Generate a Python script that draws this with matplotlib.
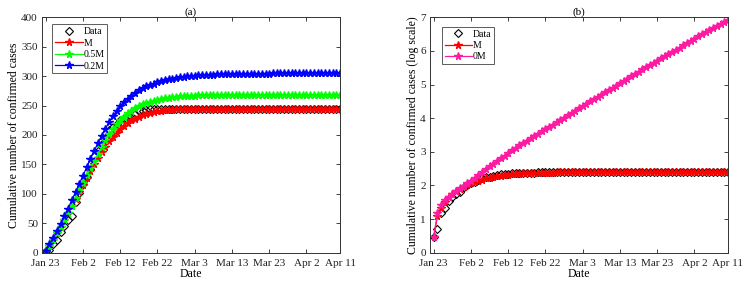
import numpy as np
import matplotlib
matplotlib.use("Agg")
import matplotlib.pyplot as plt

plt.rcParams['font.family'] = ['Liberation Serif', 'DejaVu Serif']
plt.rcParams['mathtext.fontset'] = 'stix'

days = list(range(80))
tick_days = [0, 10, 20, 30, 40, 50, 60, 70, 79]
tick_labels = ['Jan 23', 'Feb 2', 'Feb 12', 'Feb 22', 'Mar 3', 'Mar 13', 'Mar 23', 'Apr 2', 'Apr 11']

data_cases = [3, 5, 15, 22, 35, 46, 56, 63, 87, 101,
              116, 128, 142, 165, 173, 184, 195, 208, 213, 219,
              225, 229, 230, 232, 236, 240, 240, 242, 245, 245,
              245, 245, 245, 245, 245, 245, 245, 245, 245, 245,
              245, 245, 245, 245, 245, 245, 245, 245, 245, 245,
              245, 245, 245, 245, 245, 245, 245, 245, 245, 245,
              245, 245, 245, 245, 245, 245, 245, 245, 245, 245,
              245, 245, 245, 245, 245, 245, 245, 245, 245, 245]

model_M = [3, 12, 22, 33, 44, 55, 67, 79, 91, 103,
           115, 127, 139, 150, 161, 171, 180, 189, 197, 204,
           210, 216, 221, 225, 228, 231, 234, 236, 238, 239,
           240, 241, 242, 242.6, 243.1, 243.5, 243.8, 244.0, 244.2, 244.4,
           244.5, 244.6, 244.7, 244.8, 244.8, 244.9, 244.9, 245, 245, 245,
           245, 245, 245, 245, 245, 245, 245, 245, 245, 245,
           245, 245, 245, 245, 245, 245, 245, 245, 245, 245,
           245, 245, 245, 245, 245, 245, 245, 245, 245, 245]

model_05M = [3, 12, 22, 33, 44, 56, 68, 80, 93, 106,
             119, 132, 144, 156, 168, 180, 191, 201, 210, 218,
             225, 231, 237, 241.5, 245.5, 249, 252, 254.5, 256.5, 258.2,
             259.6, 261, 262.3, 263.4, 264.3, 265, 265.6, 266.1, 266.5, 266.8,
             267.1, 267.3, 267.5, 267.6, 267.7, 267.8, 267.9, 268, 268, 268,
             268, 268, 268, 268, 268, 268, 268, 268, 268, 268,
             268, 268, 268, 268, 268, 268, 268, 268, 268, 268,
             268, 268, 268, 268, 268, 268, 268, 268, 268, 268]

model_02M = [3, 14, 25, 37, 49, 62, 75, 89, 103, 117,
             131, 145, 159, 173, 186, 199, 211, 222, 232, 241,
             249, 256, 262, 267, 272, 276, 279.5, 282.5, 285, 287.5,
             289.5, 291.5, 293, 294.5, 295.8, 297, 298, 298.8, 299.6, 300.3,
             300.9, 301.4, 301.8, 302.2, 302.5, 302.8, 303, 303.2, 303.4, 303.5,
             303.6, 303.7, 303.8, 303.9, 304, 304.1, 304.2, 304.3, 304.4, 304.5,
             304.5, 304.6, 304.6, 304.7, 304.7, 304.8, 304.8, 304.8, 304.9, 304.9,
             304.9, 305, 305, 305, 305, 305, 305, 305, 305, 305]

log_model_0M = [0.48, 1.17, 1.42, 1.56, 1.67, 1.76, 1.84, 1.92, 1.99, 2.06,
                2.13, 2.21, 2.30, 2.39, 2.48, 2.57, 2.65, 2.73, 2.81, 2.89,
                2.96, 3.04, 3.11, 3.19, 3.26, 3.33, 3.40, 3.47, 3.54, 3.61,
                3.68, 3.74, 3.81, 3.88, 3.95, 4.02, 4.09, 4.16, 4.22, 4.29,
                4.36, 4.43, 4.50, 4.56, 4.63, 4.70, 4.77, 4.84, 4.90, 4.97,
                5.04, 5.11, 5.18, 5.24, 5.31, 5.38, 5.45, 5.51, 5.58, 5.65,
                5.71, 5.78, 5.84, 5.91, 5.97, 6.04, 6.10, 6.17, 6.23, 6.30,
                6.36, 6.43, 6.49, 6.56, 6.62, 6.68, 6.75, 6.81, 6.87, 6.93]

fig = plt.figure(figsize=(7.46, 2.85), dpi=100)
axA = fig.add_axes([42/746, 32.3/285, 298/746, 235.4/285])
axB = fig.add_axes([430/746, 32.3/285, 298/746, 235.4/285])

tick_fs = 8
lab_fs = 8.5
star_ms = 5.5
dia_ms = 4.2

def style(ax):
    ax.set_xlim(-1, 79)
    ax.set_xticks(tick_days)
    ax.set_xticklabels(tick_labels)
    ax.tick_params(direction='in', top=True, right=True, length=3, width=0.6,
                   labelsize=tick_fs, colors='#222222')
    ax.tick_params(axis='x', pad=4.5)
    ax.tick_params(axis='y', pad=3)
    for s in ax.spines.values():
        s.set_linewidth(0.7)
        s.set_color('#333333')
    ax.set_xlabel('Date', fontsize=lab_fs, labelpad=0)

# (a)
axA.plot(days, data_cases, linestyle='none', marker='D', ms=dia_ms, mfc='none',
         mec='black', mew=0.8, label='Data')
axA.plot(days, model_M, color='red', lw=0.9, marker='*', ms=star_ms, label='M')
axA.plot(days, model_05M, color='#00ff00', lw=0.9, marker='*', ms=star_ms, label='0.5M')
axA.plot(days, model_02M, color='blue', lw=0.9, marker='*', ms=star_ms, label='0.2M')
axA.set_ylim(0, 400)
axA.set_yticks(range(0, 401, 50))
style(axA)
axA.set_ylabel('Cumulative number of confirmed cases', fontsize=lab_fs, labelpad=1)
axA.set_title('(a)', fontsize=tick_fs, pad=2)
legA = axA.legend(loc='upper left', bbox_to_anchor=(0.035, 0.97), fontsize=7,
                  frameon=True, fancybox=False, edgecolor='#333333', borderpad=0.3,
                  labelspacing=0.25, handlelength=2.8, handletextpad=0.1,
                  borderaxespad=0, numpoints=1)
legA.get_frame().set_linewidth(0.7)

# (b)
axB.plot(days, np.log10(data_cases), linestyle='none', marker='D', ms=dia_ms, mfc='none',
         mec='black', mew=0.8, label='Data')
axB.plot(days, np.log10(model_M), color='red', lw=0.9, marker='*', ms=star_ms, label='M')
axB.plot(days, log_model_0M, color='#ff1aa3', lw=0.9, marker='*', ms=star_ms, label='0M')
axB.set_ylim(0, 7)
axB.set_yticks(range(0, 8))
style(axB)
axB.set_ylabel('Cumulative number of confirmed cases (log scale)', fontsize=lab_fs, labelpad=1)
axB.set_title('(b)', fontsize=tick_fs, pad=2)
legB = axB.legend(loc='upper left', bbox_to_anchor=(0.04, 0.96), fontsize=7,
                  frameon=True, fancybox=False, edgecolor='#333333', borderpad=0.3,
                  labelspacing=0.25, handlelength=2.8, handletextpad=0.1,
                  borderaxespad=0, numpoints=1)
legB.get_frame().set_linewidth(0.7)

fig.savefig('out.png', dpi=100)
